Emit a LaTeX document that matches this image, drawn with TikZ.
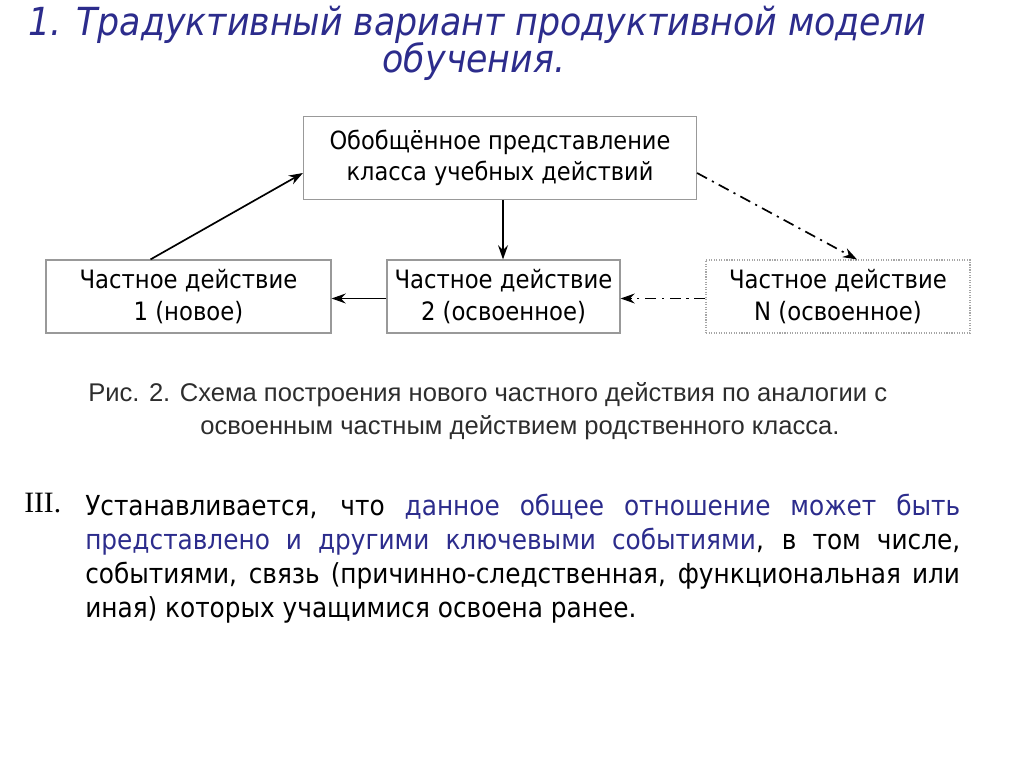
\documentclass[tikz,border=0pt]{standalone}
\usepackage{fontspec}
\setmainfont{DejaVu Sans Condensed}
\newfontfamily\capfont{Liberation Sans}
\newfontfamily\numfont{Liberation Serif}
\usetikzlibrary{positioning,arrows.meta}

\definecolor{navy}{RGB}{44,44,140}
\definecolor{capgray}{RGB}{45,45,45}

\tikzstyle{title} = [text=navy, font=\fontsize{27.5}{30}\selectfont\itshape, anchor=base, inner sep=0pt]
\tikzstyle{genbox} = [draw=gray!80, line width=0.8pt, rectangle, fill=white, align=center, minimum width=9.825cm, minimum height=2.075cm, font=\fontsize{17.8}{22.5}\selectfont]
\tikzstyle{act} = [draw=gray!80, line width=0.8pt, rectangle, fill=white, align=center, minimum height=1.825cm, font=\fontsize{18}{22.5}\selectfont]
\tikzstyle{oldact} = [act, draw=gray!70, densely dotted]
\tikzstyle{figcap} = [text=capgray, font=\capfont\fontsize{18.2}{22}\selectfont, anchor=west, inner sep=0pt]
\tikzstyle{body} = [font=\fontsize{19.6}{24.2}\selectfont, inner sep=0pt]
\tikzstyle{link} = [->, line width=1.2pt]
\tikzstyle{analog} = [link, dash pattern=on 8pt off 4pt on 1.5pt off 4pt]

\begin{document}
\begin{tikzpicture}[>={Stealth[length=10pt,width=7pt]}]
  \useasboundingbox (0,0) rectangle (25.6,-19.175);

  \node[title] (head1) at (11.94,-0.9) {1. Традуктивный вариант продуктивной модели};
  \node[title] (head2) at (11.85,-1.82) {обучения.};

  \node[genbox] (gen) at (12.5,-3.95) {Обобщённое представление\\класса учебных действий};
  \node[act, minimum width=7.125cm] (act1) at (4.7125,-7.4125) {Частное действие\\1 (новое)};
  \node[act, minimum width=5.825cm] (act2) at (12.5875,-7.4125) {Частное действие\\2 (освоенное)};
  \node[oldact, minimum width=6.6cm] (actn) at (20.95,-7.4125) {Частное действие\\N (освоенное)};

  \draw[link] ([xshift=-0.95cm]act1.north) -- ([yshift=-0.375cm]gen.west);
  \draw[link] ([xshift=0.075cm]gen.south) -- ([xshift=0.075cm]gen.south |- act2.north);
  \draw[analog] ([yshift=-0.375cm]gen.east) -- ([xshift=0.475cm]actn.north);
  \draw[link] ([yshift=-0.05cm]act2.west) -- ([yshift=-0.05cm]act1.east);
  \draw[analog] ([yshift=-0.05cm]actn.west) -- ([yshift=-0.05cm]act2.east);

  \node[figcap] (cap1) at (2.2,-9.875) {Рис. 2. Схема построения нового частного действия по аналогии с};
  \node[figcap] (cap2) at (5.0,-10.7) {освоенным частным действием родственного класса.};

  \node[body, anchor=north west, font=\numfont\fontsize{21}{24.2}\selectfont] (num) at (0.6,-12.33) {III.};
  \node[body, anchor=north west, text width=21.875cm, align=justify] (txt) at (2.125,-12.35)
    {Устанавливается, что \textcolor{navy}{данное общее отношение может быть представлено и другими ключевыми событиями}, в том числе, событиями, связь (причинно-следственная, функциональная или иная) которых учащимися освоена ранее.};
\end{tikzpicture}
\end{document}
